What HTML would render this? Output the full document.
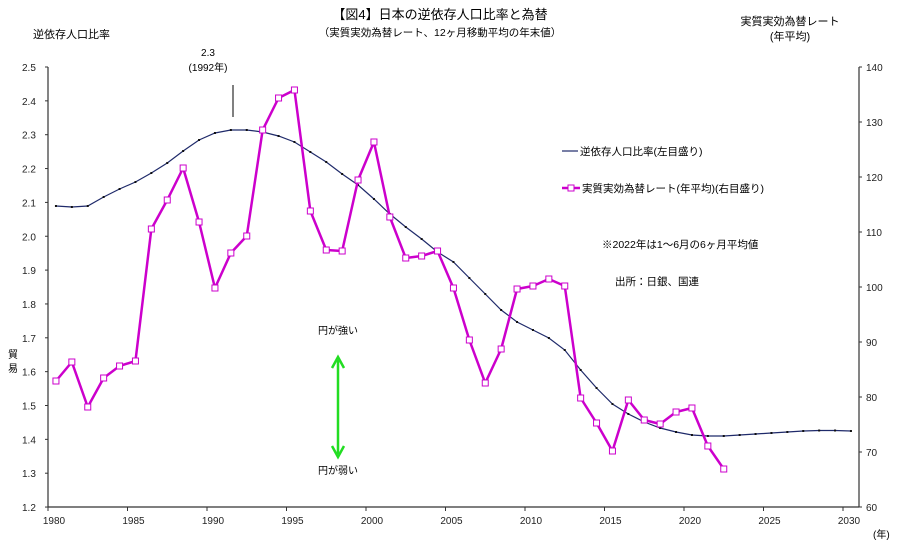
<!DOCTYPE html>
<html><head><meta charset="utf-8"><style>
body{margin:0;background:#fff}
svg{display:block;font-family:"Liberation Sans","Noto Sans CJK JP",sans-serif}
</style></head><body>
<svg id="s" width="900" height="552" xmlns="http://www.w3.org/2000/svg">
<rect width="900" height="552" fill="#fff"/>
<text x="440" y="19" font-size="13" text-anchor="middle">【図4】日本の逆依存人口比率と為替</text>
<text x="440" y="36" font-size="10.5" text-anchor="middle">（実質実効為替レート、12ヶ月移動平均の年末値）</text>
<text x="33" y="38" font-size="11">逆依存人口比率</text>
<text x="790" y="25" font-size="11" text-anchor="middle">実質実効為替レート</text>
<text x="790" y="40" font-size="11" text-anchor="middle">(年平均)</text>
<text x="208" y="56" font-size="10" text-anchor="middle">2.3</text>
<text x="208" y="71" font-size="10" text-anchor="middle">(1992年)</text>
<line x1="233" y1="85" x2="233" y2="117" stroke="#000"/>
<g fill="none" stroke="#333" stroke-width="1.2">
<line x1="48" y1="67" x2="48" y2="507"/>
<line x1="859" y1="67" x2="859" y2="507"/>
<line x1="48" y1="507" x2="859" y2="507"/>
</g>
<g id="ax" font-size="10" fill="#222"></g>
<g id="plot"></g>
<line x1="562" y1="151" x2="578" y2="151" stroke="#1f2a6a" stroke-width="1.2"/>
<text x="580" y="155" font-size="10.5">逆依存人口比率(左目盛り)</text>
<line x1="562" y1="188" x2="580" y2="188" stroke="#cc00cc" stroke-width="2.5"/>
<rect x="568" y="185" width="6" height="6" fill="#fff" stroke="#cc00cc"/>
<text x="582" y="192" font-size="10.5">実質実効為替レート(年平均)(右目盛り)</text>
<text x="602" y="248" font-size="10.5">※2022年は1～6月の6ヶ月平均値</text>
<text x="615" y="285" font-size="10.5">出所：日銀、国連</text>
<text x="338" y="334" font-size="10" text-anchor="middle">円が強い</text>
<text x="338" y="474" font-size="10" text-anchor="middle">円が弱い</text>
<g stroke="#22dd22" stroke-width="2.5" fill="none">
<line x1="338" y1="360" x2="338" y2="454"/>
<polyline points="332,368 338,357 344,368"/>
<polyline points="332,446 338,457 344,446"/>
</g>
<text x="8" y="358" font-size="10">貿</text>
<text x="8" y="372" font-size="10">易</text>
<text x="873" y="538" font-size="10">(年)</text>
</svg>
<script>
const NS="http://www.w3.org/2000/svg";
function el(t,a,p,txt){const e=document.createElementNS(NS,t);for(const k in a)e.setAttribute(k,a[k]);if(txt)e.textContent=txt;document.getElementById(p).appendChild(e);return e;}
// left ticks
for(let i=0;i<=13;i++){const v=(2.5-i*0.1).toFixed(1);const y=67+i*33.85;el('text',{x:22,y:y+4},'ax',v);el('line',{x1:45,y1:y,x2:48,y2:y,stroke:'#333'},'ax');}
for(let i=0;i<=8;i++){const v=140-i*10;const y=67+i*55;el('text',{x:866,y:y+4},'ax',String(v));el('line',{x1:859,y1:y,x2:862,y2:y,stroke:'#333'},'ax');}
for(let yr=1980;yr<=2030;yr+=5){const x=48+(yr-1980)*15.9;el('text',{x:x+6,y:524,'text-anchor':'middle'},'ax',String(yr));el('line',{x1:x,y1:507,x2:x,y2:511,stroke:'#333'},'ax');}
const X=i=>48+(i+0.5)*15.9;
const blue=[206,207,206,197,189,182,173,163,151,140,133,130,130,132,136,142,152,162,174,185,199,214,227,239,252,262,278,294,310,322,330,338,350,370,388,404,414,422,428,432,435,436,436,435,434,433,432,431,430.5,430.5,431];
const pur=[381,362,407,378,366,361,229,200,168,222,288,253,236,130,98,90,211,250,251,180,142,217,258,256,251,288,340,383,349,289,286,279,286,398,423,451,400,420,424,412,408,446,469];
el('polyline',{points:blue.map((y,i)=>X(i)+','+y).join(' '),fill:'none',stroke:'#1f2a6a','stroke-width':1.2},'plot');
blue.forEach((y,i)=>el('rect',{x:X(i)-1,y:y-1,width:2,height:2,fill:'#111'},'plot'));
el('polyline',{points:pur.map((y,i)=>X(i)+','+y).join(' '),fill:'none',stroke:'#cc00cc','stroke-width':2.5,'stroke-linejoin':'round'},'plot');
pur.forEach((y,i)=>el('rect',{x:X(i)-3,y:y-3,width:6,height:6,fill:'#fff',stroke:'#cc00cc','stroke-width':1},'plot'));
</script>
</body></html>
